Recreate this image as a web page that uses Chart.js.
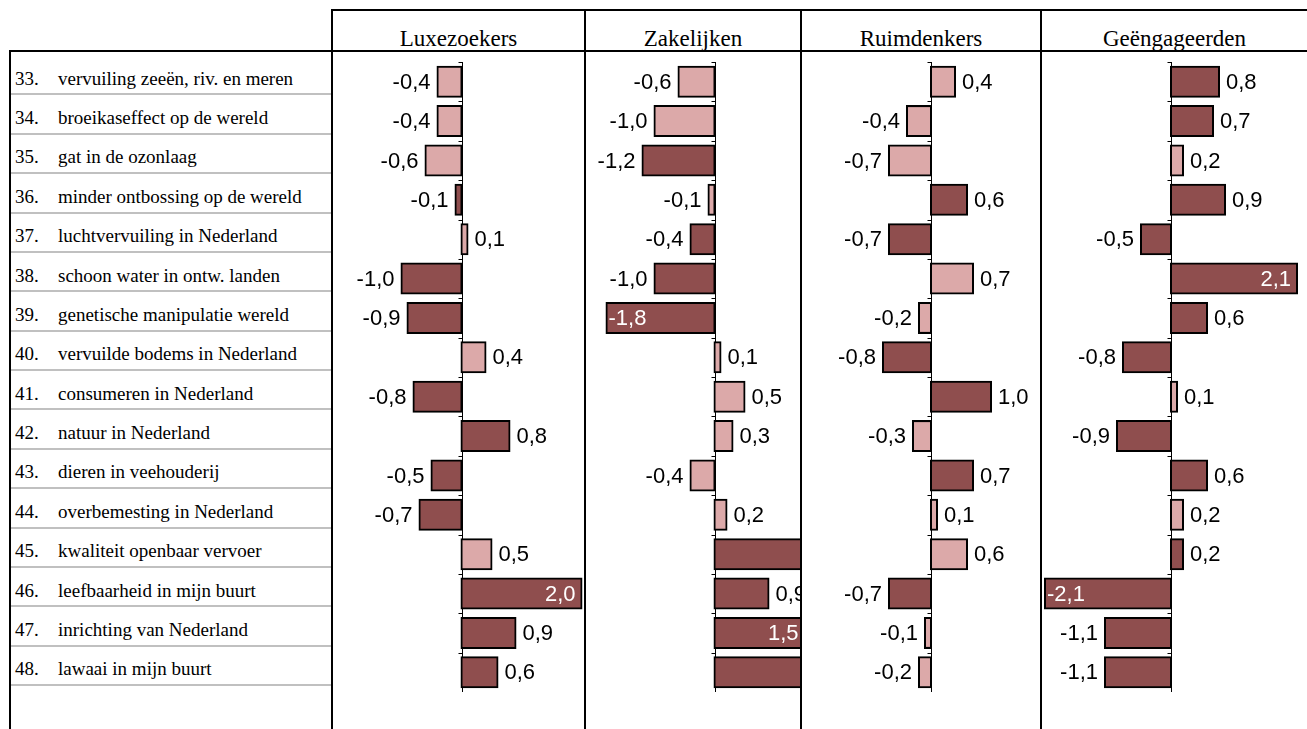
<!DOCTYPE html>
<html><head><meta charset="utf-8">
<script src="https://cdn.jsdelivr.net/npm/chart.js@4/dist/chart.umd.min.js"></script>
<style>
body{margin:0;background:#fff;width:1307px;height:729px;overflow:hidden;position:relative;font-family:"Liberation Serif","Times New Roman",serif;}
.ln{position:absolute;background:#000;}
.sep{position:absolute;background:#c0c0c0;height:2px;left:11px;width:320px;}
.num{position:absolute;left:15px;font-size:19px;line-height:22px;white-space:nowrap;color:#000;}
.lab{position:absolute;left:58px;font-size:19px;line-height:22px;white-space:nowrap;color:#000;}
.hdr{position:absolute;top:25px;font-size:23px;line-height:28px;text-align:center;color:#000;}
canvas{position:absolute;}
</style></head><body>
<script>
// ---- data ----
const numbers = ['33.','34.','35.','36.','37.','38.','39.','40.','41.','42.','43.','44.','45.','46.','47.','48.'];
const categories = ['vervuiling zeeën, riv. en meren','broeikaseffect op de wereld','gat in de ozonlaag','minder ontbossing op de wereld','luchtvervuiling in Nederland','schoon water in ontw. landen','genetische manipulatie wereld','vervuilde bodems in Nederland','consumeren in Nederland','natuur in Nederland','dieren in veehouderij','overbemesting in Nederland','kwaliteit openbaar vervoer','leefbaarheid in mijn buurt','inrichting van Nederland','lawaai in mijn buurt'];
const groups = ['Luxezoekers','Zakelijken','Ruimdenkers','Geëngageerden'];
const luxezoekers   = [-0.4,-0.4,-0.6,-0.1, 0.1,-1.0,-0.9, 0.4,-0.8, 0.8,-0.5,-0.7, 0.5, 2.0, 0.9, 0.6];
const zakelijken    = [-0.6,-1.0,-1.2,-0.1,-0.4,-1.0,-1.8, 0.1, 0.5, 0.3,-0.4, 0.2, 2.4, 0.9, 1.5, 2.2];
const ruimdenkers   = [ 0.4,-0.4,-0.7, 0.6,-0.7, 0.7,-0.2,-0.8, 1.0,-0.3, 0.7, 0.1, 0.6,-0.7,-0.1,-0.2];
const geengageerden = [ 0.8, 0.7, 0.2, 0.9,-0.5, 2.1, 0.6,-0.8, 0.1,-0.9, 0.6, 0.2, 0.2,-2.1,-1.1,-1.1];
// 1 = dark (significant), 0 = light
const luxezoekersDark   = [0,0,0,1,0,1,1,0,1,1,1,1,0,1,1,1];
const zakelijkenDark    = [0,0,1,0,1,1,1,0,0,0,0,0,1,1,1,1];
const ruimdenkersDark   = [0,0,0,1,1,0,0,1,1,0,1,0,0,1,0,0];
const geengageerdenDark = [1,1,0,1,1,1,1,1,0,1,1,0,1,1,1,1];

const series = [luxezoekers, zakelijken, ruimdenkers, geengageerden];
const darkFlags = [luxezoekersDark, zakelijkenDark, ruimdenkersDark, geengageerdenDark];
const DARK = '#8f4e4e', LIGHT = '#dca9a9';

// ---- table frame ----
function el(cls, css, txt){const d=document.createElement('div');d.className=cls;Object.assign(d.style,css);if(txt!==undefined)d.textContent=txt;document.body.appendChild(d);return d;}
el('ln',{left:'331px',top:'9px',width:'976px',height:'2px'});
el('ln',{left:'9px',top:'50px',width:'1298px',height:'2px'});
el('ln',{left:'9px',top:'50px',width:'2px',height:'679px'});
const vlines=[331,584,800,1040];
vlines.forEach(x=>el('ln',{left:x+'px',top:'9px',width:'2px',height:'720px'}));
const colBounds=[[333,584],[586,800],[802,1040],[1042,1307]];
groups.forEach((g,i)=>el('hdr',{left:colBounds[i][0]+'px',width:(colBounds[i][1]-colBounds[i][0])+'px'},g));
const ROW=39.375, TOP=62;
categories.forEach((c,k)=>{
  const cy=TOP+ROW*(k+0.5)-3;
  el('num',{top:(cy-11)+'px'},numbers[k]);
  el('lab',{top:(cy-11)+'px'},c);
  el('sep',{top:Math.round(TOP+ROW*(k+1)-8)+'px'});
});

// ---- charts ----
const PX=60;
const zeros=[461.5,714.5,931,1171];
const axisPlugin={id:'zeroAxis',
  beforeDatasetsDraw(chart){
    const ctx=chart.ctx, ca=chart.chartArea, xs=chart.scales.x, ys=chart.scales.y;
    const x0=Math.round(xs.getPixelForValue(0))+0.5;
    ctx.save();ctx.strokeStyle='#000';ctx.lineWidth=1;
    ctx.beginPath();ctx.moveTo(x0,ca.top);ctx.lineTo(x0,ca.bottom);
    const n=chart.data.labels.length;
    for(let i=0;i<=n;i++){
      const y=Math.round(ys.getPixelForValue(i-0.5))+0.5;
      ctx.moveTo(x0-4,y);ctx.lineTo(x0,y);
    }
    ctx.stroke();ctx.restore();
  },
  afterDatasetsDraw(chart){
    const ctx=chart.ctx, meta=chart.getDatasetMeta(0), vals=chart.data.datasets[0].data;
    ctx.save();ctx.font='22px "Liberation Sans", Arial, sans-serif';ctx.textBaseline='middle';
    meta.data.forEach((bar,i)=>{
      const v=vals[i];
      const txt=(v<0?'-':'')+Math.abs(v).toFixed(1).replace('.',',');
      const y=bar.y+1;
      if(Math.abs(v)>=1.5){
        ctx.fillStyle='#fff';
        if(v>0){ctx.textAlign='right';ctx.fillText(txt,bar.x-6,y);}
        else{ctx.textAlign='left';ctx.fillText(txt,bar.x+2,y);}
      }else{
        ctx.fillStyle='#000';
        if(v>=0){ctx.textAlign='left';ctx.fillText(txt,bar.x+7,y);}
        else{ctx.textAlign='right';ctx.fillText(txt,bar.x-7,y);}
      }
    });
    ctx.restore();
  }
};
colBounds.forEach((b,i)=>{
  const cv=document.createElement('canvas');
  const w=b[1]-b[0], h=Math.round(ROW*16);
  cv.width=w;cv.height=h;
  Object.assign(cv.style,{left:b[0]+'px',top:TOP+'px',width:w+'px',height:h+'px'});
  document.body.appendChild(cv);
  new Chart(cv,{type:'bar',
    data:{labels:categories,datasets:[{data:series[i],
      backgroundColor:darkFlags[i].map(f=>f?DARK:LIGHT),
      borderColor:'#000',borderWidth:2,borderSkipped:false,inflateAmount:1,
      barPercentage:0.76,categoryPercentage:1,clip:0}]},
    options:{indexAxis:'y',responsive:false,animation:false,devicePixelRatio:1,events:[],
      layout:{padding:0},
      plugins:{legend:{display:false},tooltip:{enabled:false}},
      scales:{x:{display:false,min:(b[0]-zeros[i])/PX,max:(b[1]-zeros[i])/PX},
              y:{display:false}}},
    plugins:[axisPlugin]});
});
</script>
</body></html>
